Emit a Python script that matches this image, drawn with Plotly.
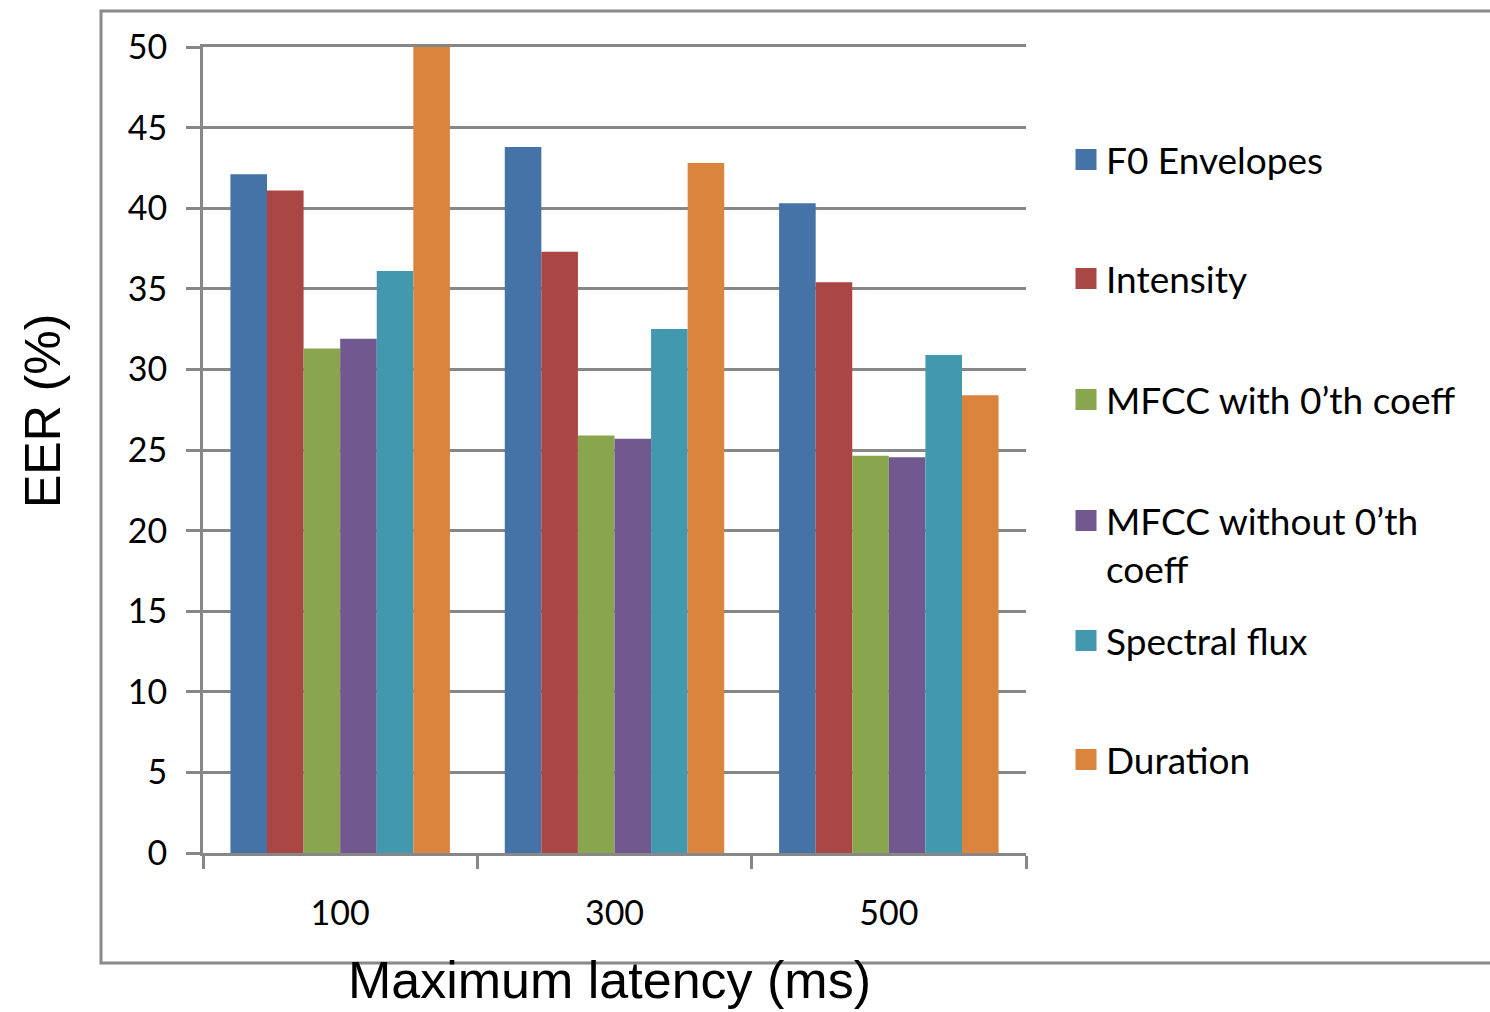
import plotly.graph_objects as go

# ---------------- data ----------------
categories = ["100", "300", "500"]
series_names = [
    "F0 Envelopes",
    "Intensity",
    "MFCC with 0’th coeff",
    "MFCC without 0’th coeff",
    "Spectral flux",
    "Duration",
]
legend_labels = [
    "F0 Envelopes",
    "Intensity",
    "MFCC with 0’th coeff",
    "MFCC without 0’th<br>coeff",
    "Spectral flux",
    "Duration",
]
f0_envelopes = [42.1, 43.8, 40.3]
intensity = [41.1, 37.3, 35.4]
mfcc_with_0th = [31.3, 25.9, 24.65]
mfcc_without_0th = [31.9, 25.7, 24.55]
spectral_flux = [36.1, 32.5, 30.9]
duration = [50.0, 42.8, 28.4]
series_values = [f0_envelopes, intensity, mfcc_with_0th, mfcc_without_0th, spectral_flux, duration]
y_ticks = [0, 5, 10, 15, 20, 25, 30, 35, 40, 45, 50]

# ---------------- styles ----------------
colors = ["#4572A7", "#AA4643", "#89A54E", "#71588F", "#4198AF", "#DB843D"]
legend_y = [0.8598, 0.7122, 0.5620, 0.3821, 0.2630, 0.1154]
GRID = "#878787"
TICK_FONT = dict(family="Lato, 'Open Sans', sans-serif", size=34, color="#000000")
LEG_FONT = dict(family="Lato, 'Open Sans', sans-serif", size=37, color="#000000")

W, H = 1490, 1012
L, R, T, B = 203, 464, 47, 159
pw, ph = W - L - R, H - T - B

def px_to_paper_x(px):
    return (px - L) / pw

def px_to_paper_y(py):
    return (H - B - py) / ph

fig = go.Figure()

for name, vals, col in zip(series_names, series_values, colors):
    fig.add_trace(go.Bar(
        x=categories, y=vals, name=name,
        marker=dict(color=col, line=dict(width=0)),
        showlegend=False,
    ))

# legend entries (one legend per series so each can sit at its own height)
layout_legends = {}
for i, (lab, col) in enumerate(zip(legend_labels, colors)):
    key = "legend" if i == 0 else f"legend{i+1}"
    fig.add_trace(go.Scatter(
        x=[None], y=[None], mode="markers", name=lab,
        marker=dict(symbol="square", size=16, color=col, line=dict(color=col, width=5)),
        showlegend=True, legend=key, hoverinfo="skip",
    ))
    layout_legends[key] = dict(
        x=px_to_paper_x(1066), xanchor="left",
        y=legend_y[i], yanchor="middle",
        bgcolor="rgba(0,0,0,0)", borderwidth=0,
        font=LEG_FONT, valign="top",
        itemclick=False, itemdoubleclick=False,
    )

fig.update_layout(
    width=W, height=H,
    margin=dict(l=L, r=R, t=T, b=B, pad=0),
    paper_bgcolor="white", plot_bgcolor="white",
    barmode="group", bargap=0.2, bargroupgap=0,
    **layout_legends,
)

fig.update_xaxes(
    type="category",
    showline=True, linecolor=GRID, linewidth=3, mirror=True,
    ticks="outside", tickson="boundaries", ticklen=13, tickwidth=3, tickcolor=GRID,
    showgrid=False, tickfont=TICK_FONT, ticklabelstandoff=28,
)
fig.update_yaxes(
    range=[0, 50], tickvals=y_ticks,
    showline=True, linecolor=GRID, linewidth=3,
    ticks="outside", ticklen=14, tickwidth=3, tickcolor=GRID,
    showgrid=True, gridcolor=GRID, gridwidth=3,
    zeroline=False, tickfont=TICK_FONT, ticklabelstandoff=12,
)

# outer chart frame
fig.add_shape(
    type="rect", xref="paper", yref="paper",
    x0=px_to_paper_x(101), x1=px_to_paper_x(1500),
    y0=px_to_paper_y(963), y1=px_to_paper_y(11),
    line=dict(color="#8a8a8a", width=3), fillcolor="rgba(0,0,0,0)", layer="below",
)

# axis titles
fig.add_annotation(
    text="EER (%)", xref="paper", yref="paper",
    x=px_to_paper_x(43), y=px_to_paper_y(411),
    xanchor="center", yanchor="middle", textangle=-90, showarrow=False,
    font=dict(family="Liberation Sans, Arial, sans-serif", size=50, color="#000000"),
)
fig.add_annotation(
    text="Maximum latency (ms)", xref="paper", yref="paper",
    x=px_to_paper_x(609), y=px_to_paper_y(980),
    xanchor="center", yanchor="middle", showarrow=False,
    font=dict(family="Liberation Sans, Arial, sans-serif", size=52, color="#000000"),
)

fig.write_html("out.html")
